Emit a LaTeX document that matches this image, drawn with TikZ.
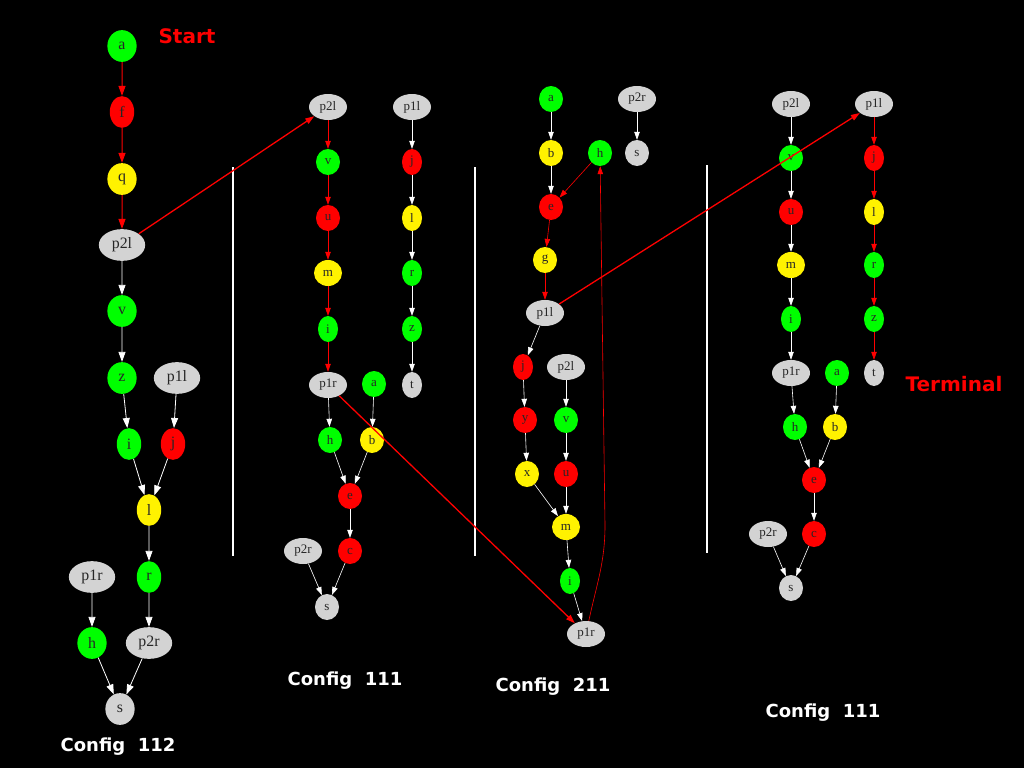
\documentclass[tikz,border=0pt]{standalone}
\usepackage{fontspec}
\setmainfont{Liberation Serif}
\newfontfamily\titlefont{DejaVu Sans}
\usetikzlibrary{shapes.geometric,arrows.meta}
\definecolor{nodegray}{HTML}{D3D3D3}

\begin{document}
\begin{tikzpicture}[x=1pt,y=-1pt,
	vx/.style={ellipse,inner sep=0pt,minimum height=26pt,minimum width=24pt,text=black!85,font=\fontsize{13}{13}\selectfont},
	nar/.style={minimum width=20pt},
	wid/.style={minimum width=28pt},
	gn/.style={vx,fill=green},
	rn/.style={vx,fill=red},
	yn/.style={vx,fill=yellow},
	pl/.style={vx,fill=nodegray},
	pn/.style={pl,minimum width=38pt},
	wedge/.style={draw=white,line width=0.6pt,-{Triangle[length=8pt,width=5.5pt,fill=white]}},
	redge/.style={draw=red,line width=0.6pt,-{Triangle[length=8pt,width=5.5pt,fill=red]}},
	link/.style={draw=red,line width=1.3pt,-{Triangle[length=9pt,width=6pt,fill=red]}},
	sep/.style={white,line width=2pt},
	config/.style={text=white,font=\titlefont\bfseries\fontsize{18}{18}\selectfont},
	tag/.style={text=red,font=\titlefont\bfseries\fontsize{20}{20}\selectfont}]

	\fill[black] (0,0) rectangle (1024,768);

	%config 1 (bigger)
	\begin{scope}[nodes={scale=1.22},
		redge/.append style={line width=1pt,-{Triangle[length=10pt,width=7pt,fill=red]}},
		wedge/.append style={line width=0.8pt,-{Triangle[length=10pt,width=7pt,fill=white]}}]
		\node[gn] (c1-a) at (122,46) {a};
		\node[rn,nar] (c1-f) at (122,112) {f};
		\node[yn] (c1-q) at (122,179) {q};
		\node[pn] (c1-p2l) at (122,245) {p2l};
		\node[gn] (c1-v) at (122,311) {v};
		\node[gn] (c1-z) at (122,378) {z};
		\node[pn] (c1-p1l) at (177,378) {p1l};
		\node[gn,nar] (c1-i) at (129,444) {i};
		\node[rn,nar] (c1-j) at (173,444) {j};
		\node[yn,nar] (c1-l) at (149,510) {l};
		\node[gn,nar] (c1-r) at (149,577) {r};
		\node[pn] (c1-p1r) at (92,577) {p1r};
		\node[gn] (c1-h) at (92,643) {h};
		\node[pn] (c1-p2r) at (149,643) {p2r};
		\node[pl] (c1-s) at (120,709) {s};
		\foreach \u/\v in {a/f,f/q,q/p2l}
			\draw[redge] (c1-\u) -- (c1-\v);
		\foreach \u/\v in {p2l/v,v/z,z/i,p1l/j,i/l,j/l,l/r,r/p2r,p1r/h,h/s,p2r/s}
			\draw[wedge] (c1-\u) -- (c1-\v);
	\end{scope}

	%config 2
	\node[pn] (c2-p2l) at (328,107) {p2l};
	\node[gn] (c2-v) at (328,162) {v};
	\node[rn] (c2-u) at (328,218) {u};
	\node[yn,wid] (c2-m) at (328,273) {m};
	\node[gn,nar] (c2-i) at (328,329) {i};
	\node[pn] (c2-p1r) at (328,385) {p1r};
	\node[gn] (c2-a) at (374,384) {a};
	\node[pn] (c2-p1l) at (412,107) {p1l};
	\node[rn,nar] (c2-j) at (412,162) {j};
	\node[yn,nar] (c2-l) at (412,218) {l};
	\node[gn,nar] (c2-r) at (412,273) {r};
	\node[gn,nar] (c2-z) at (412,329) {z};
	\node[pl,nar] (c2-t) at (412,385) {t};
	\node[gn] (c2-h) at (330,440) {h};
	\node[yn] (c2-b) at (372,440) {b};
	\node[rn] (c2-e) at (350,496) {e};
	\node[rn] (c2-c) at (350,551) {c};
	\node[pn] (c2-p2r) at (303,551) {p2r};
	\node[pl] (c2-s) at (327,607) {s};
	\foreach \u/\v in {p2l/v,v/u,u/m,m/i,i/p1r}
		\draw[redge] (c2-\u) -- (c2-\v);
	\foreach \u/\v in {p1l/j,j/l,l/r,r/z,z/t,p1r/h,a/b,h/e,b/e,e/c,c/s,p2r/s}
		\draw[wedge] (c2-\u) -- (c2-\v);

	%config 3
	\node[gn] (c3-a) at (551,99) {a};
	\node[pn] (c3-p2r) at (637,99) {p2r};
	\node[yn] (c3-b) at (551,153) {b};
	\node[gn] (c3-h) at (600,153) {h};
	\node[pl] (c3-s) at (637,153) {s};
	\node[rn] (c3-e) at (551,207) {e};
	\node[yn] (c3-g) at (545,260) {g};
	\node[pn] (c3-p1l) at (545,313) {p1l};
	\node[rn,nar] (c3-j) at (523,367) {j};
	\node[pn] (c3-p2l) at (566,367) {p2l};
	\node[rn] (c3-y) at (525,420) {y};
	\node[gn] (c3-v) at (566,420) {v};
	\node[yn] (c3-x) at (527,474) {x};
	\node[rn] (c3-u) at (566,474) {u};
	\node[yn,wid] (c3-m) at (566,527) {m};
	\node[gn,nar] (c3-i) at (570,581) {i};
	\node[pn] (c3-p1r) at (586,634) {p1r};
	\coordinate (c3-bend) at (605,525);
	\foreach \u/\v in {a/b,b/e,p2r/s,p1l/j,j/y,y/x,x/m,p2l/v,v/u,u/m,m/i,i/p1r}
		\draw[wedge] (c3-\u) -- (c3-\v);
	\foreach \u/\v in {h/e,e/g,g/p1l}
		\draw[redge] (c3-\u) -- (c3-\v);
	\draw[redge] (c3-p1r) to[out=78,in=-90] (c3-bend) -- (c3-h);

	%config 4
	\node[pn] (c4-p2l) at (791,104) {p2l};
	\node[pn] (c4-p1l) at (874,104) {p1l};
	\node[gn] (c4-v) at (791,158) {v};
	\node[rn,nar] (c4-j) at (874,158) {j};
	\node[rn] (c4-u) at (791,212) {u};
	\node[yn,nar] (c4-l) at (874,212) {l};
	\node[yn,wid] (c4-m) at (791,265) {m};
	\node[gn,nar] (c4-r) at (874,265) {r};
	\node[gn,nar] (c4-i) at (791,319) {i};
	\node[gn,nar] (c4-z) at (874,319) {z};
	\node[pn] (c4-p1r) at (791,373) {p1r};
	\node[gn] (c4-a) at (837,373) {a};
	\node[pl,nar] (c4-t) at (874,373) {t};
	\node[gn] (c4-h) at (795,427) {h};
	\node[yn] (c4-b) at (835,427) {b};
	\node[rn] (c4-e) at (814,480) {e};
	\node[rn] (c4-c) at (814,534) {c};
	\node[pn] (c4-p2r) at (768,534) {p2r};
	\node[pl] (c4-s) at (791,588) {s};
	\foreach \u/\v in {p2l/v,v/u,u/m,m/i,i/p1r,p1r/h,a/b,h/e,b/e,e/c,c/s,p2r/s}
		\draw[wedge] (c4-\u) -- (c4-\v);
	\foreach \u/\v in {p1l/j,j/l,l/r,r/z,z/t}
		\draw[redge] (c4-\u) -- (c4-\v);

	%separators
	\draw[sep] (233,167) -- (233,556);
	\draw[sep] (475,167) -- (475,556);
	\draw[sep] (707,165) -- (707,553);

	%links:
	\draw[link] (c1-p2l) -- (c2-p2l);
	\draw[link] (c2-p1r) -- (c3-p1r);
	\draw[link] (c3-p1l) -- (c4-p1l);

	\node[tag] (start) at (187,36) {Start};
	\node[tag] (terminal) at (954,384) {Terminal};
	\node[config] (cfg1) at (118,747) {Config~~112};
	\node[config] (cfg2) at (345,681) {Config~~111};
	\node[config] (cfg3) at (553,687) {Config~~211};
	\node[config] (cfg4) at (823,713) {Config~~111};
\end{tikzpicture}
\end{document}
